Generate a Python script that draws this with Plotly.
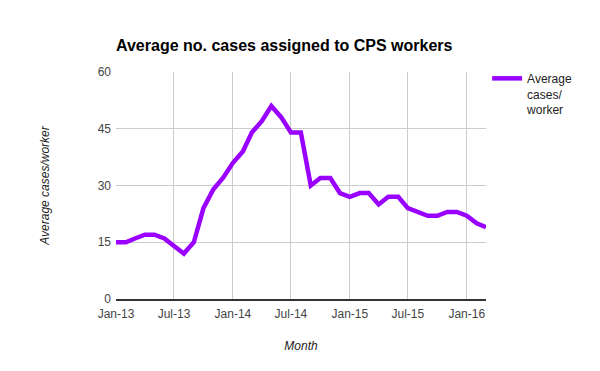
import plotly.graph_objects as go
import pandas as pd

months = pd.date_range("2013-01-01", "2016-03-01", freq="MS").strftime("%Y-%m-%d").tolist()
cases = [15, 15, 16, 17, 17, 16, 14, 12, 15, 24, 29, 32,
         36, 39, 44, 47, 51, 48, 44, 44, 30, 32, 32, 28,
         27, 28, 28, 25, 27, 27, 24, 23, 22, 22, 23, 23,
         22, 20, 19]
tick_vals = ["2013-01-01", "2013-07-01", "2014-01-01", "2014-07-01",
             "2015-01-01", "2015-07-01", "2016-01-01"]
tick_text = ["Jan-13", "Jul-13", "Jan-14", "Jul-14", "Jan-15", "Jul-15", "Jan-16"]
y_ticks = [0, 15, 30, 45, 60]

FONT = "Liberation Sans, Arial, sans-serif"
W, H = 592, 363  # page body has an 8px margin

fig = go.Figure()
fig.add_trace(go.Scatter(
    x=months, y=cases, mode="lines",
    name="Average<br>cases/<br>worker",
    line=dict(color="#9900ff", width=4.5),
))

fig.update_layout(
    width=W, height=H,
    margin=dict(l=108, r=114, t=64, b=72, autoexpand=False),
    paper_bgcolor="white", plot_bgcolor="white",
    font=dict(family=FONT, size=12, color="#444444"),
    title=dict(text="<b>Average no. cases assigned to CPS workers</b>",
               x=108/W, xanchor="left", y=1-37/H, yanchor="middle",
               font=dict(family=FONT, size=16, color="#000000")),
    showlegend=True,
    legend=dict(x=1.003, xanchor="left", y=1.035, yanchor="top", valign="top",
                font=dict(family=FONT, size=12, color="#222222"),
                bgcolor="rgba(0,0,0,0)", itemwidth=30),
    xaxis=dict(range=[months[0], months[-1]], tickvals=tick_vals, ticktext=tick_text,
               showgrid=True, gridcolor="#cccccc", gridwidth=1,
               showline=True, linecolor="#333333", linewidth=1.5,
               ticks="", zeroline=False, ticklabelstandoff=3,
               title=dict(text="<i>Month</i>", font=dict(family=FONT, size=12, color="#222222"),
                          standoff=21),
               tickfont=dict(family=FONT, size=12, color="#444444")),
    yaxis=dict(range=[0, 60], tickvals=y_ticks,
               showgrid=True, gridcolor="#cccccc", gridwidth=1,
               zeroline=False, ticks="", ticklabelstandoff=4,
               title=dict(text="<i>Average cases/worker</i>", font=dict(family=FONT, size=12, color="#222222"),
                          standoff=45),
               tickfont=dict(family=FONT, size=12, color="#444444")),
)

fig.write_html("out.html")
